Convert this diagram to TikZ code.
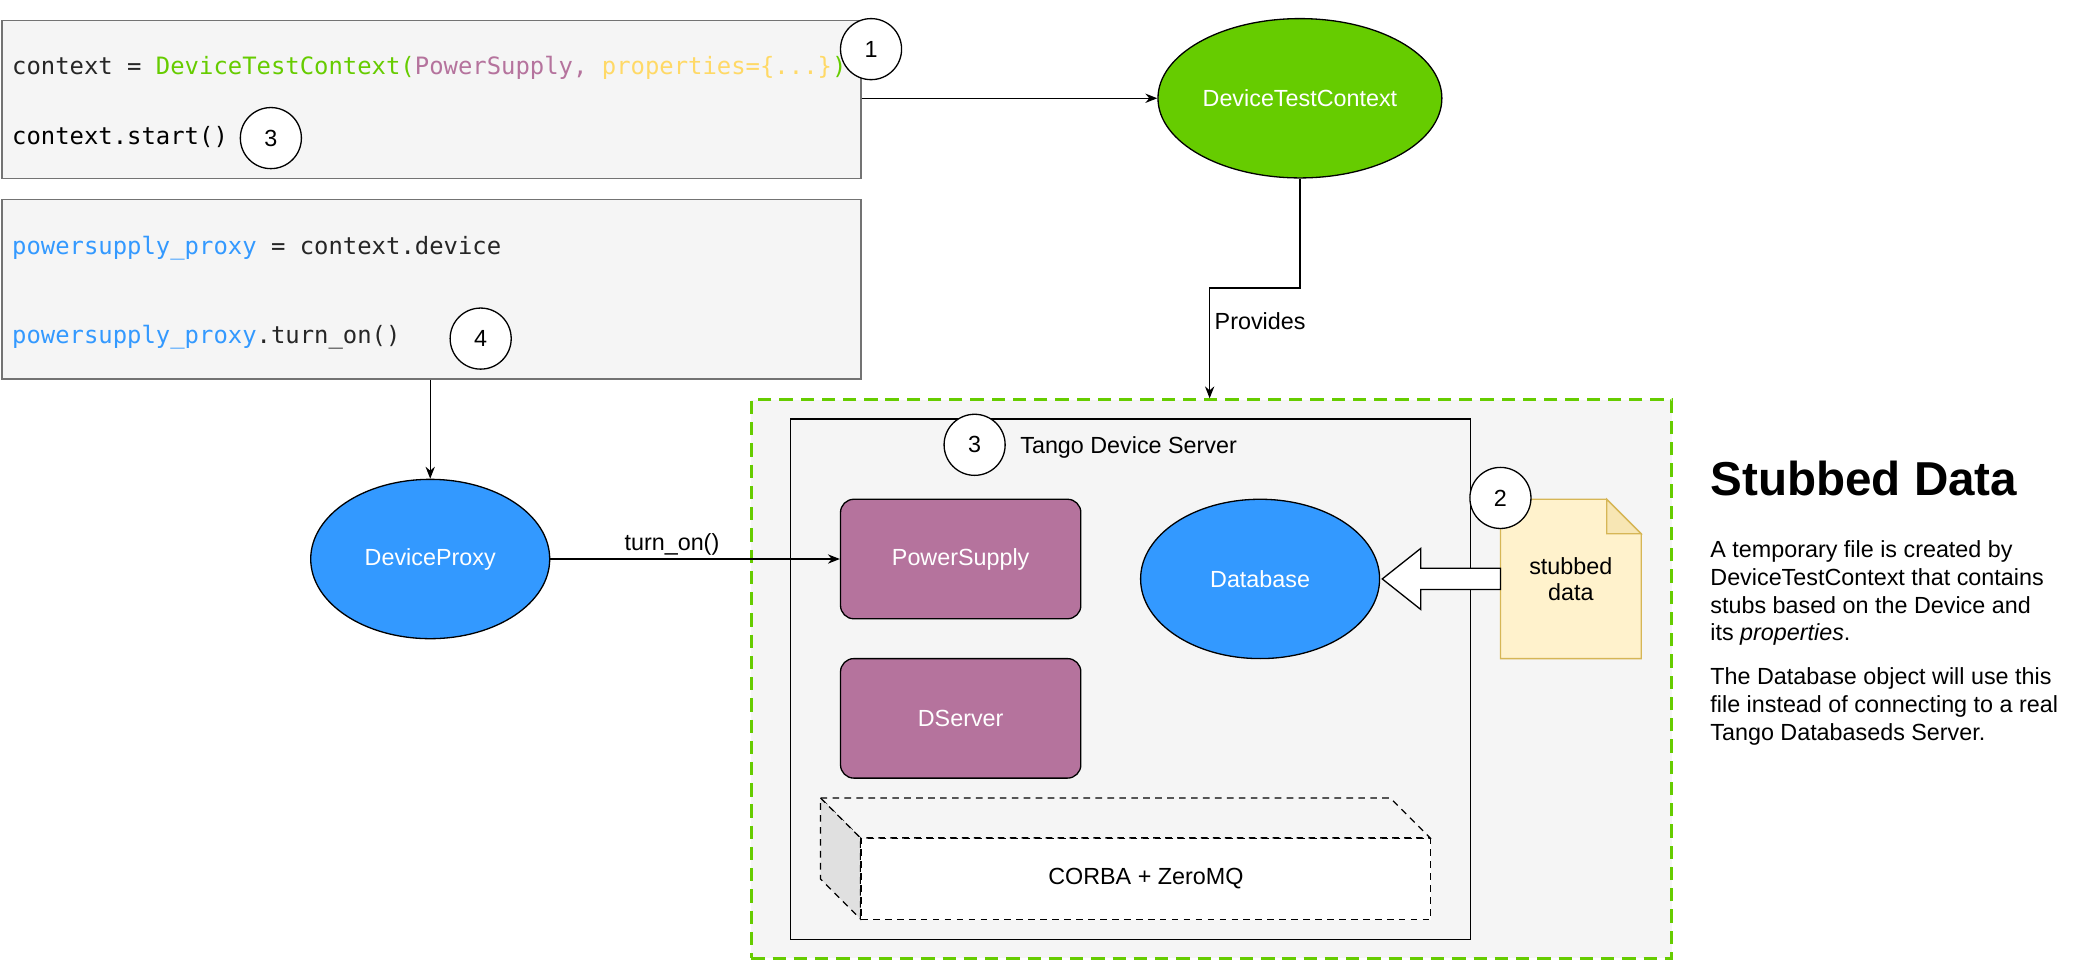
\documentclass[tikz,border=0pt]{standalone}
\usepackage{fontspec}
\setmainfont{Liberation Sans}
\setmonofont{DejaVu Sans Mono}
\usetikzlibrary{arrows.meta,shapes.geometric}
\definecolor{bgg}{HTML}{F5F5F5}
\definecolor{cgreen}{HTML}{66CC00}
\definecolor{cblue}{HTML}{3399FF}
\definecolor{cpurp}{HTML}{B5739D}
\definecolor{cyel}{HTML}{FFD966}
\definecolor{notef}{HTML}{FFF2CC}
\definecolor{noted}{HTML}{D6B656}
\begin{document}
\begin{tikzpicture}[x=0.05cm,y=-0.05cm,
  every node/.style={font=\fontsize{25}{30}\selectfont},
  code/.style={font=\fontsize{25.6}{30}\selectfont\ttfamily,anchor=west,inner sep=0},
  num/.style={circle,draw,fill=white,minimum size=2.3cm,inner sep=0,line width=1.4pt},
  ell/.style={ellipse,draw,line width=1.4pt,minimum width=9cm,minimum height=6cm,text=white},
  rbox/.style={draw,rounded corners=0.5cm,fill=cpurp,minimum width=9.05cm,minimum height=4.5cm,text=white,line width=1.4pt},
  arr/.style={-{Stealth[length=0.45cm,width=0.35cm]},line width=1.4pt},
  dsh/.style={dashed,dash pattern=on 0.25cm off 0.2cm,line width=1.4pt}]
\useasboundingbox (0,0) rectangle (1568,723);
% code boxes
\node[draw=gray!90!black,fill=bgg,line width=1.4pt,minimum width=32.35cm,minimum height=5.95cm,anchor=north west,inner sep=0] (b1) at (1,15) {};
\node[code] (c1) at (9,51) {\color{black!85}context = \textcolor{cgreen}{DeviceTestContext(}\textcolor{cpurp}{PowerSupply,} \textcolor{cyel}{properties=\{...\}}\textcolor{cgreen}{)}};
\node[code] (c2) at (9,103) {context.start()};
\node[num] (n3a) at (204,104) {3};
\node[num] (n1) at (656,37) {1};
\node[draw=gray!90!black,fill=bgg,line width=1.4pt,minimum width=32.35cm,minimum height=6.75cm,anchor=north west,inner sep=0] (b2) at (1,150) {};
\node[code] (c3) at (9,187) {\textcolor{cblue}{powersupply\_proxy} \color{black!85}= context.device};
\node[code] (c4) at (9,254) {\textcolor{cblue}{powersupply\_proxy}\color{black!85}.turn\_on()};
\node[num] (n4) at (362,255) {4};
% DTC
\node[ell,fill=cgreen] (dtc) at (979,74) {DeviceTestContext};
\draw[arr] (b1.east |- dtc) -- (dtc);
% server
\node[draw=cgreen,dashed,dash pattern=on 0.5cm off 0.3cm,line width=2.5pt,fill=bgg,minimum width=34.65cm,minimum height=21.05cm,anchor=north west,inner sep=0] (srv) at (565,300) {};
\draw[arr] (dtc.south) -- (979,217) -- (911,217) -- (911,300) coordinate (srvtop);
\node (prov) at (949,242) {Provides};
\node[draw,fill=bgg,line width=1.4pt,minimum width=25.6cm,minimum height=19.6cm,anchor=north west,inner sep=0] (tds) at (595,315) {};
\node[num] (n3b) at (734,335) {3};
\node (tdsl) at (850,337) {Tango Device Server};
\node[rbox] (ps) at (723.5,421) {PowerSupply};
\node[rbox] (ds) at (723.5,541) {DServer};
\node[ell,fill=cblue] (db) at (949,436) {Database};
% note
\draw[fill=notef,draw=noted,line width=1.4pt] (1130,376) -- (1210,376) -- (1236,402) -- (1236,496) -- (1130,496) -- cycle;
\draw[fill=notef!80!noted,draw=noted,line width=1.4pt] (1210,376) -- (1210,402) -- (1236,402) -- cycle;
\node[align=center,font=\fontsize{25}{28}\selectfont] (note) at (1183,436) {stubbed\\data};
\draw[fill=white,line width=1.4pt] (1130,428) -- (1070,428) -- (1070,413) -- (1041,436) -- (1070,459) -- (1070,444) -- (1130,444) -- cycle;
\node[num] (n2) at (1130,375) {2};
% cube
\draw[dsh,fill=bgg] (618,601) -- (1047,601) -- (1077,631) -- (648,631) -- cycle;
\draw[dsh,fill=black!12] (618,601) -- (648,631) -- (648,692) -- (618,662) -- cycle;
\node[draw,dsh,fill=white,minimum width=21.45cm,minimum height=3.05cm,anchor=north west,inner sep=0] (corba) at (648,631) {};
\node at (corba.center) {CORBA + ZeroMQ};
% proxy
\node[ell,fill=cblue] (dp) at (324,421) {DeviceProxy};
\draw[arr] (b2.south -| dp) -- (dp.north);
\draw[arr] (dp.east) -- node[above,text=black,pos=0.42] {turn\_on()} (ps.west);
% text
\node[anchor=west,inner sep=0,font=\bfseries\fontsize{51}{60}\selectfont] (title) at (1288,360) {Stubbed Data};
\node[anchor=north west,inner sep=0,align=left,font=\fontsize{25}{29.8}\selectfont] (desc) at (1288,407) {A temporary file is created by\\DeviceTestContext that contains\\stubs based on the Device and\\its \textit{properties}.\\[0.6cm]The Database object will use this\\file instead of connecting to a real\\Tango Databaseds Server.};
\end{tikzpicture}
\end{document}
